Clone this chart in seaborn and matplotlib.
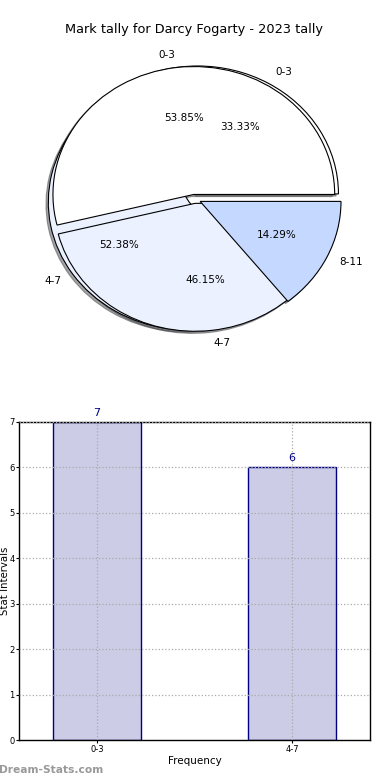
import matplotlib
matplotlib.use('Agg')
from matplotlib import pyplot as plt
import seaborn as sns
import pandas as pd

# chart data
title = 'Mark tally for Darcy Fogarty - 2023 tally'
season_bins = ['0-3', '4-7']
season_counts = [7, 6]
career_bins = ['0-3', '4-7', '8-11']
career_counts = [7, 11, 3]

season_colors = ['#ffffff', '#ebf1ff']
career_colors = ['#ffffff', '#ebf1ff', '#c5d8ff']

sns.set_style('white')
plt.rcParams['font.family'] = ['DejaVu Sans']
plt.rcParams['axes.edgecolor'] = 'black'
plt.rcParams['text.color'] = 'black'
plt.rcParams['axes.labelcolor'] = 'black'
plt.rcParams['xtick.color'] = 'black'
plt.rcParams['ytick.color'] = 'black'

fig = plt.figure(figsize=(3.9, 7.8), dpi=100)

# pie: career pie under, season pie on top
ax_pie = fig.add_axes([0.047, 0.540, 0.903, 0.410])
wedge_kw = {'edgecolor': 'black', 'linewidth': 0.8}
shadow_kw = {'ox': -0.012, 'oy': -0.012}
career_wedges, _, _ = ax_pie.pie(career_counts, labels=career_bins, colors=career_colors,
                                 explode=[0.045] * 3, autopct='%1.2f%%', shadow=shadow_kw,
                                 wedgeprops=wedge_kw, textprops={'fontsize': 7.5})
season_wedges, _, _ = ax_pie.pie(season_counts, labels=season_bins, colors=season_colors,
                                 explode=[0.035] * 2, autopct='%1.2f%%', shadow=shadow_kw,
                                 wedgeprops=wedge_kw, textprops={'fontsize': 7.5})
career_wedges[2].set_zorder(1.5)
ax_pie.set_aspect('auto')
ax_pie.set_xlim(-1.25, 1.25)
ax_pie.set_ylim(-1.25, 1.25)
ax_pie.set_title(title, fontsize=9.3, pad=4)

# bar chart
ax_bar = fig.add_axes([0.049, 0.051, 0.9, 0.408])
bar_df = pd.DataFrame({'bin': season_bins, 'count': season_counts})
sns.barplot(data=bar_df, x='bin', y='count', color='#ccccE6', saturation=1,
            edgecolor='navy', linewidth=1, width=0.45, ax=ax_bar)
ax_bar.bar_label(ax_bar.containers[0], padding=3, color='navy', fontsize=8)
ax_bar.set_xlim(-0.4, 1.4)
ax_bar.set_ylim(0, 7)
ax_bar.set_yticks(range(0, 8))
ax_bar.grid(True, linestyle=':', color='#aaaaaa', linewidth=0.9)
ax_bar.set_axisbelow(False)
ax_bar.tick_params(bottom=True, left=True, length=2, pad=1.2, labelsize=6, color='black')
for sp in ax_bar.spines.values():
    sp.set_color('black')
    sp.set_linewidth(1)
ax_bar.set_xlabel('Frequency', fontsize=7.5, labelpad=2)
ax_bar.set_ylabel('Stat Intervals', fontsize=7.3)
ax_bar.yaxis.set_label_coords(-0.027, 0.5)

fig.text(-0.003, 0.0128, 'Dream-Stats.com', ha='left', va='center',
         fontsize=7.7, weight='bold', color='#999999')

plt.savefig('out.png', dpi=100)
